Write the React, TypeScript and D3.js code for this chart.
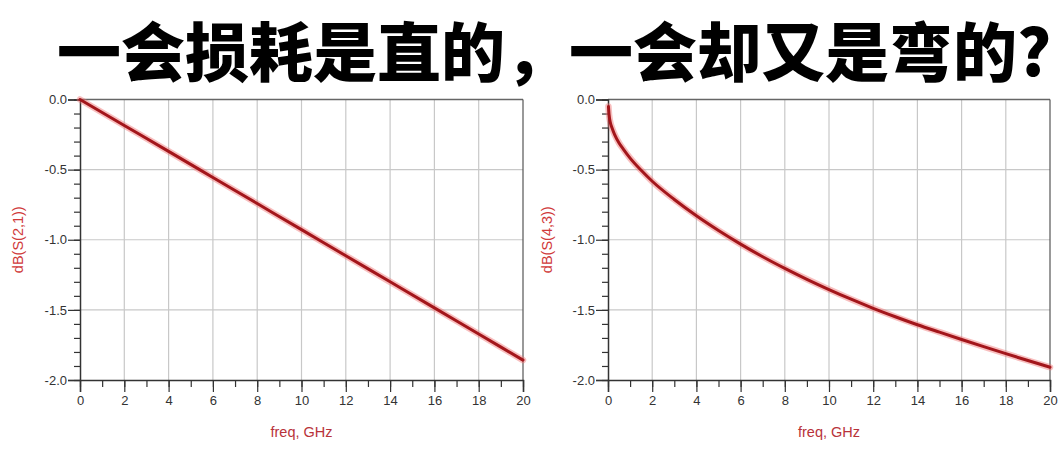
import * as d3 from 'd3';
import { useEffect, useRef } from 'react';

const titleText = '一会损耗是直的，一会却又是弯的?';

// left chart: dB(S(2,1)) — straight loss
const freqS21 = [0, 2, 4, 6, 8, 10, 12, 14, 16, 18, 20];
const dbS21 = [0, -0.185, -0.37, -0.556, -0.742, -0.928, -1.114, -1.3, -1.486, -1.672, -1.858];

// right chart: dB(S(4,3)) — curved loss
const freqS43 = [0.02, 0.05, 0.1, 0.2, 0.3, 0.5, 0.7, 1, 1.5, 2, 3, 4, 5, 6, 7, 8, 9, 10, 11, 12, 13, 14, 15, 16, 17, 18, 19, 20];
const dbS43 = [-0.05, -0.11, -0.16, -0.21, -0.25, -0.31, -0.355, -0.418, -0.505, -0.583, -0.713, -0.829, -0.934, -1.031, -1.121, -1.204, -1.282, -1.355, -1.424, -1.489, -1.549, -1.606, -1.659, -1.711, -1.762, -1.812, -1.861, -1.909];

const xTicks = [0, 2, 4, 6, 8, 10, 12, 14, 16, 18, 20];
const yTicks = [0, -0.5, -1, -1.5, -2];

const W = 1059;
const H = 450;

const panels = [
  { label: 'dB(S(2,1))', freq: freqS21, db: dbS21, left: 80, right: 523, labelX: 18 },
  { label: 'dB(S(4,3))', freq: freqS43, db: dbS43, left: 608, right: 1050, labelX: 547 },
];

export default function App() {
  const svgRef = useRef<SVGSVGElement>(null);

  useEffect(() => {
    if (!svgRef.current) return;
    const svg = d3.select(svgRef.current);
    svg.selectAll('*').remove();

    svg.append('rect').attr('width', W).attr('height', H).attr('fill', '#fff');

    // big title
    svg.append('text')
      .attr('x', 57)
      .attr('y', 48)
      .attr('dominant-baseline', 'central')
      .style('font-family', '"Noto Sans CJK SC", sans-serif')
      .style('font-weight', 900)
      .style('font-size', '64px')
      .style('fill', '#000')
      .text(titleText);

    const top = 99.5;
    const bottom = 380;
    const fmt = (d: number) => d3.format('.1f')(d).replace('−', '-');

    panels.forEach(p => {
      const x = d3.scaleLinear().domain([0, 20]).range([p.left, p.right]);
      const y = d3.scaleLinear().domain([-2, 0]).range([bottom, top]);
      const g = svg.append('g');

      // grid
      g.selectAll('.vgrid')
        .data(xTicks.slice(1, -1))
        .join('line')
        .attr('x1', d => x(d)).attr('x2', d => x(d))
        .attr('y1', top).attr('y2', bottom)
        .attr('stroke', '#c8c8c8').attr('stroke-width', 1.2);
      g.selectAll('.hgrid')
        .data(yTicks.slice(1, -1))
        .join('line')
        .attr('x1', p.left).attr('x2', p.right)
        .attr('y1', d => y(d)).attr('y2', d => y(d))
        .attr('stroke', '#c8c8c8').attr('stroke-width', 1.2);

      // frame
      g.append('line').attr('x1', p.left).attr('x2', p.right).attr('y1', top).attr('y2', top)
        .attr('stroke', '#666').attr('stroke-width', 1.5);
      g.append('line').attr('x1', p.right).attr('x2', p.right).attr('y1', top).attr('y2', bottom)
        .attr('stroke', '#555').attr('stroke-width', 1.2);

      // axes
      const yAxis = d3.axisLeft(y).tickValues(yTicks).tickSize(12).tickPadding(1)
        .tickFormat(d => fmt(+d));
      const ya = g.append('g').attr('transform', `translate(${p.left},0)`).call(yAxis);
      const yMinor = d3.axisLeft(y).tickValues(d3.range(-20, 1).map(v => v / 10)).tickSize(6).tickFormat(() => '');
      g.append('g').attr('transform', `translate(${p.left},0)`).call(yMinor).select('.domain').remove();

      const xAxis = d3.axisBottom(x).tickValues(xTicks).tickSize(12).tickPadding(4);
      const xa = g.append('g').attr('transform', `translate(0,${bottom})`).call(xAxis);
      const xMinor = d3.axisBottom(x).tickValues(d3.range(0, 21)).tickSize(7).tickFormat(() => '');
      g.append('g').attr('transform', `translate(0,${bottom})`).call(xMinor).select('.domain').remove();

      [ya, xa].forEach(a => {
        a.selectAll('text')
          .style('font-family', '"Liberation Sans", Arial, sans-serif')
          .style('font-size', '13px')
          .style('fill', '#333');
        a.select('.domain').attr('stroke', '#333').attr('stroke-width', 1.5);
      });
      g.selectAll('.tick line').attr('stroke', '#333').attr('stroke-width', 1.2);

      // data line: soft glow below a dark red stroke
      const pts = p.freq.map((f, i) => [f, p.db[i]] as [number, number]);
      const line = d3.line<[number, number]>()
        .x(d => x(d[0])).y(d => y(d[1]))
        .curve(d3.curveMonotoneX);
      g.append('path').attr('d', line(pts)).attr('fill', 'none')
        .attr('stroke', '#f07070').attr('stroke-opacity', 0.45).attr('stroke-width', 6.5)
        .attr('stroke-linecap', 'round');
      g.append('path').attr('d', line(pts)).attr('fill', 'none')
        .attr('stroke', '#a3161b').attr('stroke-width', 3)
        .attr('stroke-linecap', 'round');

      // axis titles
      g.append('text')
        .attr('transform', `translate(${p.labelX},${(top + bottom) / 2}) rotate(-90)`)
        .attr('text-anchor', 'middle')
        .attr('dominant-baseline', 'central')
        .style('font-family', '"Liberation Sans", Arial, sans-serif')
        .style('font-size', '14.5px')
        .style('fill', '#d03a3a')
        .text(p.label);
      g.append('text')
        .attr('x', (p.left + p.right) / 2)
        .attr('y', 432)
        .attr('text-anchor', 'middle')
        .attr('dominant-baseline', 'central')
        .style('font-family', '"Liberation Sans", Arial, sans-serif')
        .style('font-size', '14.5px')
        .style('fill', '#b8333a')
        .text('freq, GHz');
    });
  }, []);

  return (
    <svg
      ref={svgRef}
      width={W}
      height={H}
      style={{ position: 'absolute', left: 0, top: 0, display: 'block' }}
    />
  );
}
